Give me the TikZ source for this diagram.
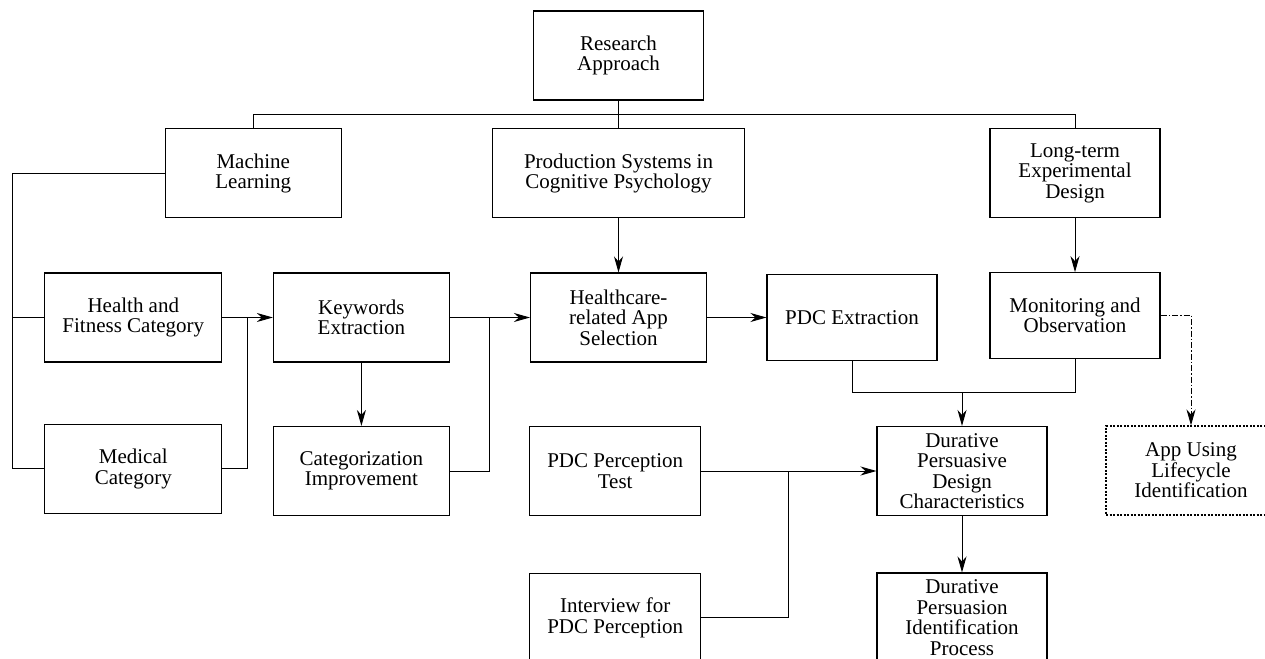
\documentclass[tikz,border=0pt]{standalone}
\usepackage{fontspec}
\setmainfont{Liberation Serif}
\usetikzlibrary{arrows.meta}
\begin{document}
\begin{tikzpicture}[x=1pt,y=-1pt,
  box/.style={draw, line width=1.1pt, align=center, inner sep=2pt,
    minimum width=#1, minimum height=89pt, font=\fontsize{21}{20.5}\selectfont},
  box/.default=171pt,
  conn/.style={line width=1pt},
  arr/.style={conn, -{Stealth[length=16pt,width=9pt,inset=5pt]}},
  dashbox/.style={dash pattern=on 2pt off 1.5pt},
  dashdotline/.style={dash pattern=on 6pt off 2pt on 1.5pt off 2pt},
]
\useasboundingbox (0,0) rectangle (1265,658);
\fill[white] (0,0) rectangle (1265,658);

% top row
\node[box=170pt] (research) at (618.5,55.5) {Research\\Approach};
\node[box=176pt] (ml) at (253.3,173.3) {Machine\\Learning};
\node[box=252pt] (prod) at (618.5,173.3) {Production Systems in\\Cognitive Psychology};
\node[box=170pt] (lt) at (1075,173.3) {Long-term\\Experimental\\Design};

% third row
\node[box=177pt] (health) at (133.3,317.5) {Health and\\Fitness Category};
\node[box=176pt] (kw) at (361.4,317.5) {Keywords\\Extraction};
\node[box=176pt] (hc) at (618.5,317.5) {Healthcare-\\related App\\Selection};
\node[box=170pt, minimum height=85.6pt] (pdcext) at (852,317.5) {PDC Extraction};
\node[box=170pt, minimum height=85.6pt] (mon) at (1075,315.5) {Monitoring and\\Observation};

% fourth row
\node[box=177pt] (med) at (133.3,468.8) {Medical\\Category};
\node[box=176pt] (cat) at (361.4,471) {Categorization\\Improvement};
\node[box=171pt] (perc) at (615.2,471.3) {PDC Perception\\Test};
\node[box=170pt] (dur) at (962,471) {Durative\\Persuasive\\Design\\Characteristics};
\node[box=170pt, dashbox] (app) at (1191,470.5) {App Using\\Lifecycle\\Identification};

% fifth row
\node[box=171pt] (intv) at (615.2,617.6) {Interview for\\PDC Perception};
\node[box=170pt] (dpip) at (962,617.5) {Durative\\Persuasion\\Identification\\Process};

% helper coordinates
\coordinate (bus) at (0,115);
\coordinate (leftbar) at (12.2,0);
\coordinate (m1) at (247,0);
\coordinate (m2) at (489.8,0);
\coordinate (m3) at (788.6,0);
\coordinate (join) at (0,392.3);

% connectors
\draw[conn] (research.south) -- (prod.north);
\draw[conn] (ml.north) -- (ml.north |- bus) -- (lt.north |- bus) -- (lt.north);

\draw[conn] (ml.west) -- (leftbar |- ml.west) -- (leftbar |- med.west) -- (med.west);
\draw[conn] (leftbar |- health.west) -- (health.west);

\draw[arr] (health.east) -- (kw.west);
\draw[conn] (med.east) -- (m1 |- med.east) -- (m1 |- health.east);

\draw[arr] (kw.south) -- (cat.north);
\draw[arr] (kw.east) -- (hc.west);
\draw[conn] (cat.east) -- (m2 |- cat.east) -- (m2 |- kw.east);

\draw[arr] (prod.south) -- (hc.north);
\draw[arr] (hc.east) -- (pdcext.west);
\draw[arr] (lt.south) -- (mon.north);

\draw[conn] (pdcext.south) -- (pdcext.south |- join) -- (mon.south |- join) -- (mon.south);
\draw[arr] (dur.north |- join) -- (dur.north);

\draw[arr, dashdotline] (mon.east |- 0,315) -- (app.north |- 0,315) -- (app.north);

\draw[arr] (perc.east |- dur.west) -- (dur.west);
\draw[conn] (intv.east) -- (m3 |- intv.east) -- (m3 |- dur.west);

\draw[arr] (dur.south) -- (dpip.north);
\end{tikzpicture}
\end{document}
